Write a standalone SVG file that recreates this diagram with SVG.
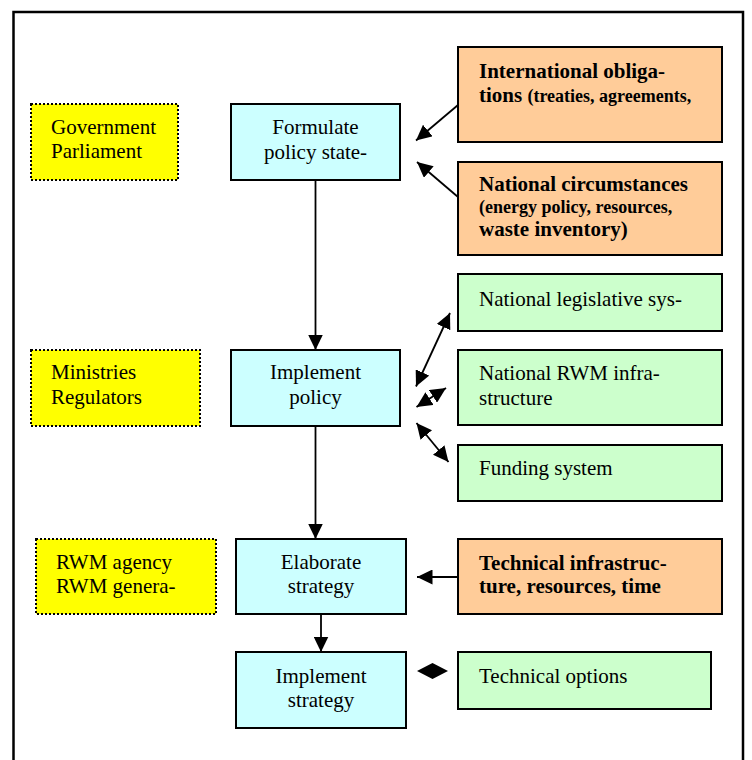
<svg xmlns="http://www.w3.org/2000/svg" width="752" height="760" viewBox="0 0 752 760">
<style>
text{font-family:"Liberation Serif","Times New Roman",serif;font-size:21px;fill:#000}
.b{font-weight:bold}
.s{font-size:18px}
.c{text-anchor:middle}
.y{fill:#ffff00;stroke:#000;stroke-width:2;stroke-dasharray:2 2}
.q{fill:#ccffff;stroke:#000;stroke-width:2}
.o{fill:#ffcc99;stroke:#000;stroke-width:2}
.g{fill:#ccffcc;stroke:#000;stroke-width:2}
.l{stroke:#000;stroke-width:1.8;fill:none}
</style>
<defs>
<marker id="ah" markerUnits="userSpaceOnUse" markerWidth="16" markerHeight="15" refX="15.5" refY="7.5" orient="auto-start-reverse">
<path d="M0,0 L15.5,7.5 L0,15 z" fill="#000"/>
</marker>
</defs>
<rect width="752" height="760" fill="#fff"/>
<path d="M13.5,762 V12 H743 V762" fill="none" stroke="#000" stroke-width="2.5"/>

<g id="gov"><rect class="y" x="31" y="104" width="147" height="76"/><text x="51" y="134">Government</text><text x="51" y="158">Parliament</text></g>
<g id="min"><rect class="y" x="31" y="350" width="169" height="76"/><text x="51" y="379">Ministries</text><text x="51" y="404">Regulators</text></g>
<g id="rwm"><rect class="y" x="36" y="539" width="180" height="75"/><text x="56" y="569">RWM agency</text><text x="56" y="593">RWM genera-</text></g>

<g id="formulate"><rect class="q" x="231" y="104" width="169" height="76"/><text class="c" x="315.5" y="134">Formulate</text><text class="c" x="315.5" y="159">policy state-</text></g>
<g id="implpolicy"><rect class="q" x="231" y="350" width="169" height="76"/><text class="c" x="315.5" y="379">Implement</text><text class="c" x="315.5" y="404">policy</text></g>
<g id="elaborate"><rect class="q" x="236" y="539" width="170" height="75"/><text class="c" x="321" y="569">Elaborate</text><text class="c" x="321" y="593">strategy</text></g>
<g id="implstrat"><rect class="q" x="236" y="652" width="170" height="76"/><text class="c" x="321" y="683">Implement</text><text class="c" x="321" y="707">strategy</text></g>

<g id="intl"><rect class="o" x="458" y="47" width="264" height="95"/><text class="b" x="479" y="78">International obliga-</text><text class="b" x="479" y="102">tions <tspan class="s">(treaties, agreements,</tspan></text></g>
<g id="natcirc"><rect class="o" x="458" y="162" width="264" height="93"/><text class="b" x="479" y="191">National circumstances</text><text class="b s" x="479" y="213">(energy policy, resources,</text><text class="b" x="479" y="236">waste inventory)</text></g>
<g id="techinfra"><rect class="o" x="458" y="539" width="264" height="75"/><text class="b" x="479" y="570">Technical infrastruc-</text><text class="b" x="479" y="593">ture, resources, time</text></g>

<g id="legis"><rect class="g" x="458" y="274" width="264" height="57"/><text x="479" y="306">National legislative sys-</text></g>
<g id="infra"><rect class="g" x="458" y="350" width="264" height="75"/><text x="479" y="380">National RWM infra-</text><text x="479" y="405">structure</text></g>
<g id="funding"><rect class="g" x="458" y="445" width="264" height="56"/><text x="479" y="475">Funding system</text></g>
<g id="techopt"><rect class="g" x="458" y="652" width="253" height="57"/><text x="479" y="683">Technical options</text></g>

<g id="connectors">
<line class="l" x1="315.5" y1="180" x2="315.5" y2="350" marker-end="url(#ah)"/>
<line class="l" x1="315.5" y1="426" x2="315.5" y2="539" marker-end="url(#ah)"/>
<line class="l" x1="321" y1="614" x2="321" y2="652" marker-end="url(#ah)"/>
<line class="l" x1="458" y1="105" x2="416" y2="140.5" marker-end="url(#ah)"/>
<line class="l" x1="458" y1="197" x2="417" y2="162" marker-end="url(#ah)"/>
<line class="l" x1="416" y1="386.5" x2="450" y2="313" marker-start="url(#ah)" marker-end="url(#ah)"/>
<line class="l" x1="416.5" y1="407" x2="446" y2="388" marker-start="url(#ah)" marker-end="url(#ah)"/>
<line class="l" x1="416.5" y1="423" x2="448.5" y2="462" marker-start="url(#ah)" marker-end="url(#ah)"/>
<line class="l" x1="458" y1="577" x2="417" y2="577" marker-end="url(#ah)"/>
<path d="M417,671 L432.5,663 L448,671 L432.5,679 z" fill="#000"/>
</g>
</svg>
